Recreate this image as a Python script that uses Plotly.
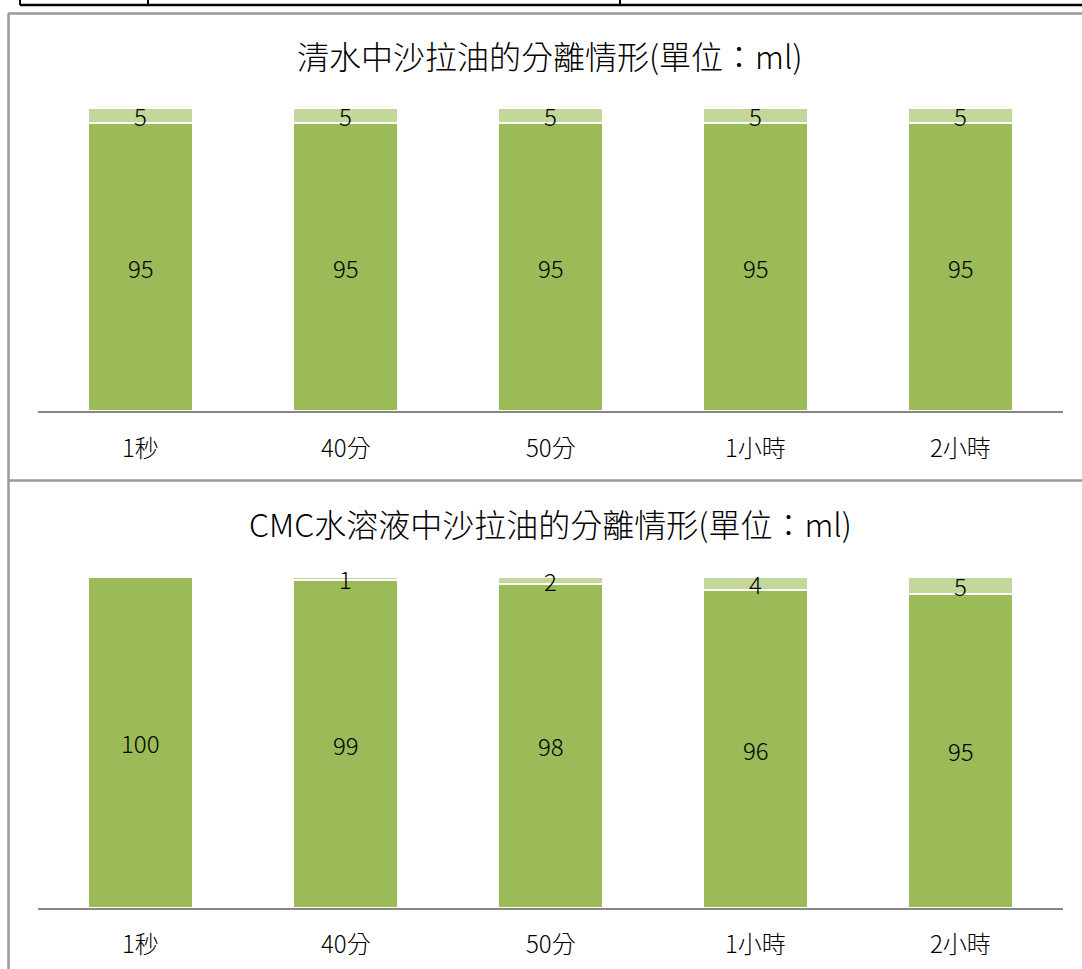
import plotly.graph_objects as go

W, H = 1082, 969

categories = ["1秒", "40分", "50分", "1小時", "2小時"]

# 清水 panel: water layer (bottom) and oil layer (top), ml
water_clear = [95, 95, 95, 95, 95]
oil_clear = [5, 5, 5, 5, 5]

# CMC 水溶液 panel
water_cmc = [100, 99, 98, 96, 95]
oil_cmc = [0, 1, 2, 4, 5]

titles = ["清水中沙拉油的分離情形(單位：ml)", "CMC水溶液中沙拉油的分離情形(單位：ml)"]

DARK = "#9BBB59"
LIGHT = "#C3D69B"
AXIS = "#868686"
BORDER = "#9a9a9a"
FONT = "Noto Sans CJK TC"


def px_x(x):
    return x / W


def px_y(y):
    return 1 - y / H


fig = go.Figure()

panels = [
    # (water, oil, x axis name, y axis name, plot top px, axis px, title y px, label y px)
    (water_clear, oil_clear, "x", "y", 108, 411, 55, 446),
    (water_cmc, oil_cmc, "x2", "y2", 577, 908, 523, 942),
]

layout_axes = {}
annotations = []
for i, (water, oil, xa, ya, top, base, ty, ly) in enumerate(panels):
    fig.add_trace(go.Bar(
        x=categories, y=water, xaxis=xa, yaxis=ya,
        marker=dict(color=DARK, line=dict(color="white", width=2)),
        hoverinfo="skip", showlegend=False,
    ))
    fig.add_trace(go.Bar(
        x=categories, y=oil, xaxis=xa, yaxis=ya,
        marker=dict(color=LIGHT, line=dict(color="white", width=2)),
        hoverinfo="skip", showlegend=False,
    ))
    # value labels centred in each segment
    for c, w, o in zip(categories, water, oil):
        annotations.append(dict(
            x=c, y=w / 2, xref=xa, yref=ya, text=str(w), showarrow=False,
            font=dict(family=FONT, size=24, color="black", weight=300),
        ))
        if o > 0:
            annotations.append(dict(
                x=c, y=w + o / 2, xref=xa, yref=ya, text=str(o), showarrow=False,
                font=dict(family=FONT, size=24, color="black", weight=300),
            ))
    # panel title
    annotations.append(dict(
        x=px_x(550), y=px_y(ty), xref="paper", yref="paper", text=titles[i],
        showarrow=False, xanchor="center", yanchor="middle",
        font=dict(family=FONT, size=32, color="black", weight=300),
    ))
    # category labels
    for k, c in enumerate(categories):
        annotations.append(dict(
            x=c, y=px_y(ly), xref=xa, yref="paper", text=c, showarrow=False,
            xanchor="center", yanchor="middle",
            font=dict(family=FONT, size=24, color="black", weight=300),
        ))
    xkey = "xaxis" if xa == "x" else "xaxis2"
    ykey = "yaxis" if ya == "y" else "yaxis2"
    layout_axes[xkey] = dict(
        domain=[px_x(38), px_x(1063)], anchor=ya, showticklabels=False,
        showgrid=False, zeroline=False, showline=True, linecolor=AXIS,
        linewidth=2, ticks="", fixedrange=True,
    )
    layout_axes[ykey] = dict(
        domain=[px_y(base), px_y(top)], anchor=xa, range=[0, 100],
        visible=False, fixedrange=True,
    )

shapes = []
# table strip at the top of the page
shapes.append(dict(type="line", xref="paper", yref="paper",
                   x0=px_x(20), x1=1, y0=px_y(5), y1=px_y(5),
                   line=dict(color="black", width=2.5)))
for vx in [20, 148, 620]:
    shapes.append(dict(type="line", xref="paper", yref="paper",
                       x0=px_x(vx), x1=px_x(vx), y0=1, y1=px_y(5),
                       line=dict(color="black", width=2)))
# gray panel frames
for hy in [13.5, 480.5]:
    shapes.append(dict(type="line", xref="paper", yref="paper",
                       x0=px_x(8), x1=1, y0=px_y(hy), y1=px_y(hy),
                       line=dict(color=BORDER, width=2.5)))
shapes.append(dict(type="line", xref="paper", yref="paper",
                   x0=px_x(8.5), x1=px_x(8.5), y0=0, y1=px_y(13.5),
                   line=dict(color=BORDER, width=2.5)))

fig.update_layout(
    width=W, height=H,
    margin=dict(l=0, r=0, t=0, b=0),
    paper_bgcolor="white", plot_bgcolor="white",
    barmode="stack", bargap=0.49,
    annotations=annotations, shapes=shapes,
    font=dict(family=FONT),
    **layout_axes,
)

fig.write_html("out.html", config={"displayModeBar": False})
